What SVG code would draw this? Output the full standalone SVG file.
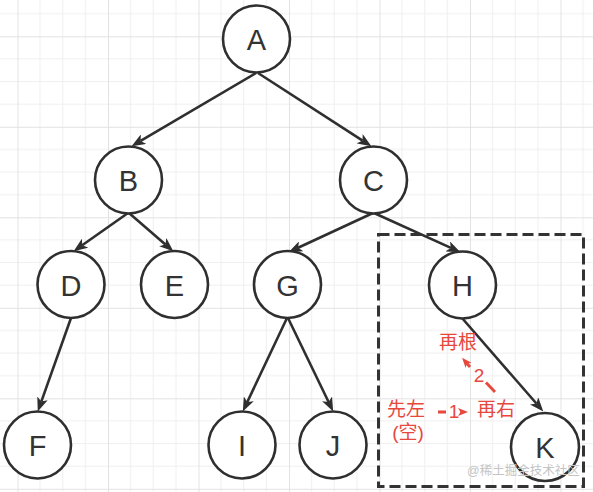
<svg xmlns="http://www.w3.org/2000/svg" width="593" height="492" viewBox="0 0 593 492">
<defs>
<pattern id="grid" patternUnits="userSpaceOnUse" x="17.5" y="36.3" width="90.5" height="90.5">
<path d="M22.6,0 V90.5 M45.25,0 V90.5 M67.9,0 V90.5 M0,22.6 H90.5 M0,45.25 H90.5 M0,67.9 H90.5" stroke="#efefef" stroke-width="1" fill="none"/>
<path d="M0.5,0 V90.5 M0,0.5 H90.5" stroke="#e2e2e2" stroke-width="1" fill="none"/>
</pattern>
<marker id="arr" markerUnits="userSpaceOnUse" markerWidth="14" markerHeight="11" refX="3.5" refY="5.5" orient="auto">
<path d="M0,0 L14,5.5 L0,11 L3.5,5.5 Z" fill="#2f2f2f"/>
</marker>
<marker id="arrRed" markerUnits="userSpaceOnUse" markerWidth="10" markerHeight="8" refX="2.5" refY="4" orient="auto">
<path d="M0,0 L10,4 L0,8 L2.5,4 Z" fill="#e8473c"/>
</marker>
<style>
.node circle{fill:#fff;stroke:#2f2f2f;stroke-width:2.6}
.node text{font-family:"Liberation Sans",Arial,sans-serif;font-size:29px;fill:#333;text-anchor:middle}
.edge{stroke:#2f2f2f;stroke-width:2.6;fill:none;marker-end:url(#arr)}
.red-edge{stroke:#e8473c;stroke-width:2.8;fill:none;marker-end:url(#arrRed)}
.note{font-family:"Liberation Sans","Noto Sans CJK SC",sans-serif;font-size:19px;fill:#e8473c;text-anchor:middle}
.wm{font-family:"Liberation Sans","Noto Sans CJK SC",sans-serif;font-size:12.5px;fill:#c4c4c4}
</style>
</defs>
<rect x="0" y="0" width="593" height="492" fill="#fff"/>
<rect x="0" y="0" width="593" height="492" fill="url(#grid)"/>

<g id="connectors">
<path class="edge" d="M256,73 L140.6,140.9"/>
<path class="edge" d="M258,73 L362.6,140.6"/>
<path class="edge" d="M128,213 L82.2,245.2"/>
<path class="edge" d="M129,213 L165.4,244.5"/>
<path class="edge" d="M373,213 L298.1,247.8"/>
<path class="edge" d="M374,213 L450.9,247.9"/>
<path class="edge" d="M71,318 L41.3,401.6"/>
<path class="edge" d="M287,318 L247.3,402"/>
<path class="edge" d="M288,318 L328.6,402"/>
<path class="edge" d="M462,318 L536.4,403.5"/>
<path class="red-edge" d="M438,412 H446 M460,412 H460.5"/>
<path class="red-edge" d="M495,392 L486,382.5 M470,367 L467,363.5"/>
</g>

<g id="frame">
<rect x="378.5" y="234.5" width="205" height="252" fill="none" stroke="#333" stroke-width="3" stroke-dasharray="11 5"/>
</g>

<g id="node-A" class="node"><circle cx="256.5" cy="39" r="33.5"/><text x="256.5" y="50">A</text></g>
<g id="node-B" class="node"><circle cx="128.5" cy="180" r="33.5"/><text x="128.5" y="191">B</text></g>
<g id="node-C" class="node"><circle cx="373.5" cy="180" r="33.5"/><text x="373.5" y="191">C</text></g>
<g id="node-D" class="node"><circle cx="71" cy="284.5" r="33.5"/><text x="71" y="295.5">D</text></g>
<g id="node-E" class="node"><circle cx="174.5" cy="284.5" r="33.5"/><text x="174.5" y="295.5">E</text></g>
<g id="node-G" class="node"><circle cx="287.5" cy="284.5" r="33.5"/><text x="287.5" y="295.5">G</text></g>
<g id="node-H" class="node"><circle cx="462.5" cy="285" r="33.5"/><text x="462.5" y="296">H</text></g>
<g id="node-F" class="node"><circle cx="37.5" cy="445" r="33.5"/><text x="37.5" y="456">F</text></g>
<g id="node-I" class="node"><circle cx="242" cy="445" r="33.5"/><text x="242" y="456">I</text></g>
<g id="node-J" class="node"><circle cx="333" cy="445" r="33.5"/><text x="333" y="456">J</text></g>
<g id="node-K" class="node"><circle cx="545" cy="447" r="34"/><text x="545" y="458">K</text></g>

<g id="labels">
<text class="note" x="458" y="349">再根</text>
<text class="note" x="479" y="382">2</text>
<text class="note" x="454" y="418">1</text>
<text class="note" x="406" y="416">先左</text>
<text class="note" x="408" y="439">(空)</text>
<text class="note" x="496" y="416">再右</text>
<text class="wm" x="467" y="475">@稀土掘金技术社区</text>
</g>
</svg>
